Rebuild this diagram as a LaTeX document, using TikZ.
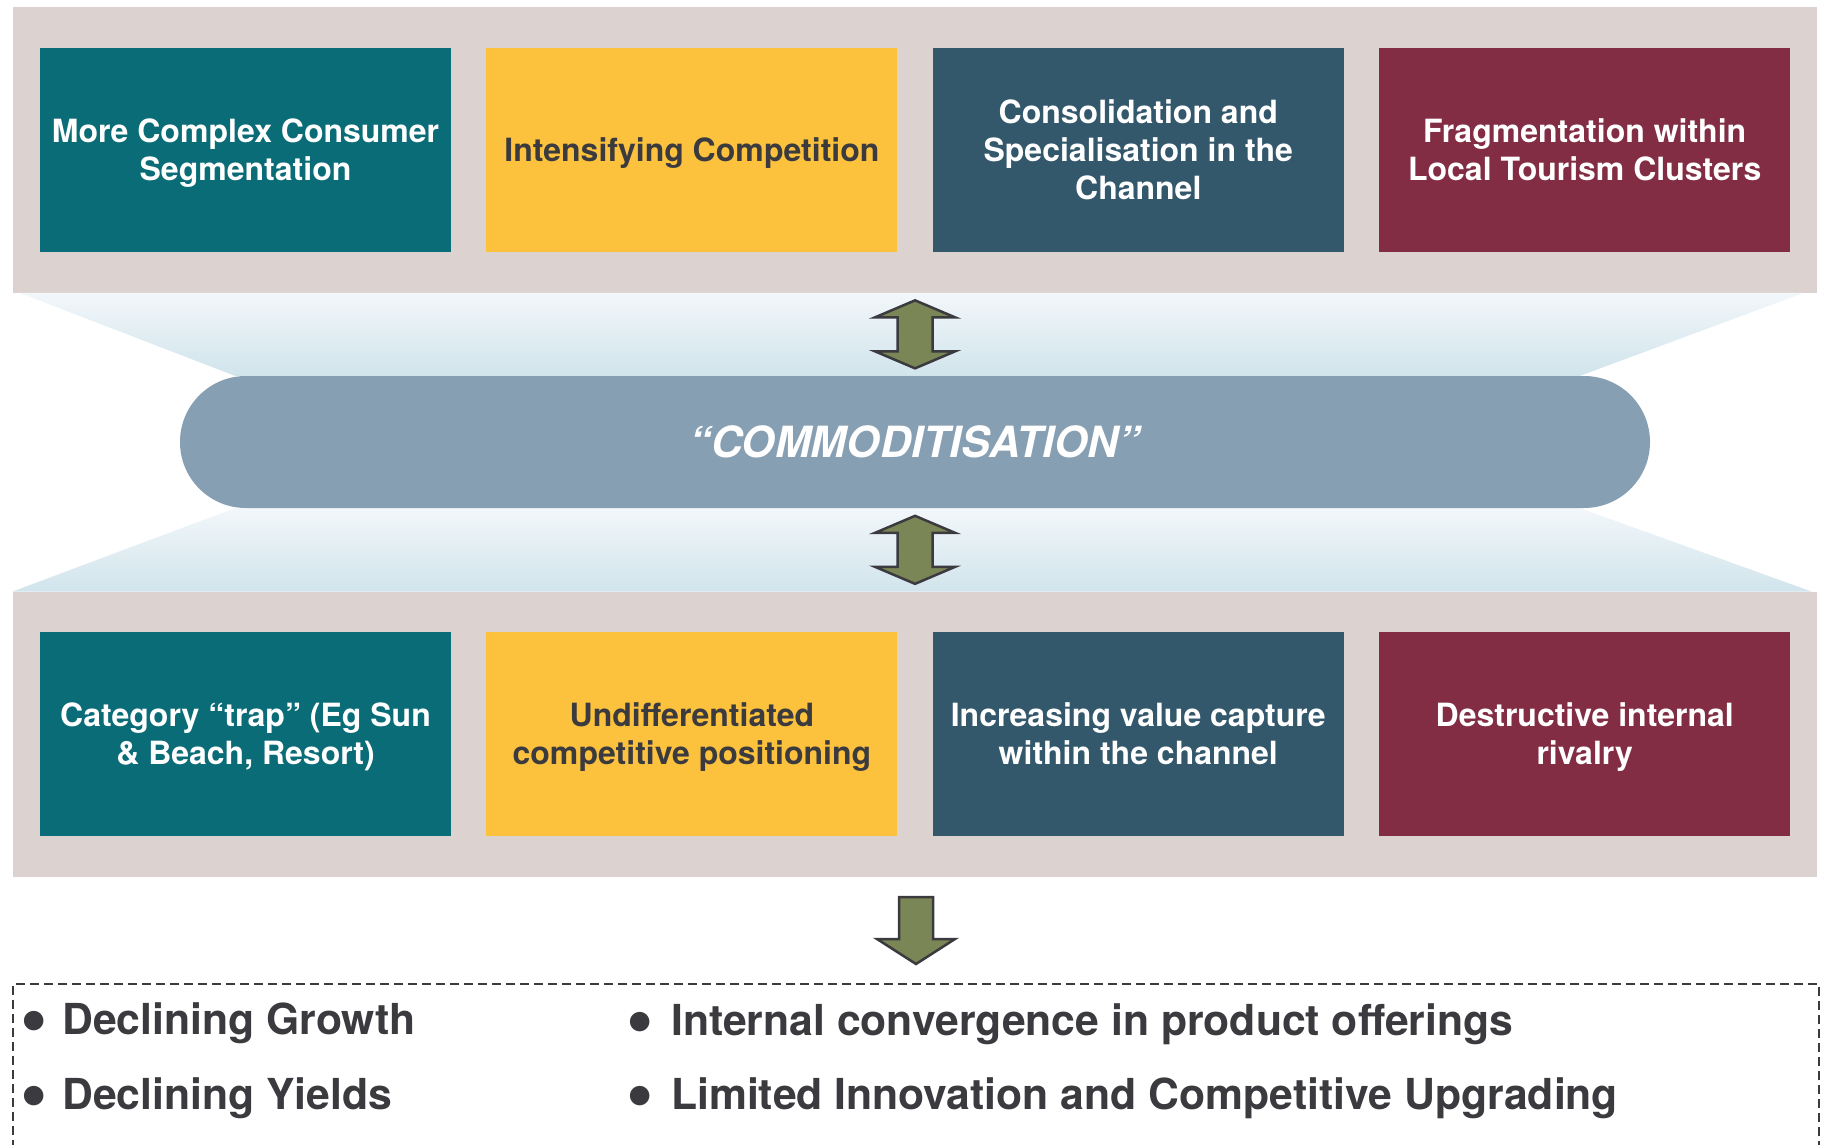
\documentclass[tikz,border=0pt]{standalone}
\usepackage{fontspec}
\setmainfont{TeX Gyre Heros}
\usetikzlibrary{backgrounds,calc,fit,positioning}

\definecolor{panelgray}{HTML}{DCD3D1}
\definecolor{tealbox}{HTML}{0A6C77}
\definecolor{yellowbox}{HTML}{FDC23D}
\definecolor{slatebox}{HTML}{33576B}
\definecolor{maroonbox}{HTML}{822D44}
\definecolor{pillblue}{HTML}{879FB3}
\definecolor{olivefill}{HTML}{7A8656}
\definecolor{darktext}{HTML}{3A3A3F}
\definecolor{funneltop}{HTML}{F2F7FA}
\definecolor{funnelbot}{HTML}{D1E4EC}

% even strut, so every box centres on its capitals
\newcommand{\cstrut}{\rule[-7pt]{0pt}{37pt}}
\newcommand{\bigdot}{\raisebox{-10.5pt}{\fontsize{78}{78}\selectfont\textbullet}}

\tikzset{
  factor/.style={rectangle, minimum width=411pt, minimum height=204pt, inner sep=0pt,
    align=center, text=white, font=\fontsize{32}{38}\selectfont\bfseries},
  panel/.style={fill=panelgray, inner xsep=27pt, inner ysep=40.5pt},
  funnel/.style={top color=funneltop, bottom color=funnelbot},
  pill/.style={fill=pillblue, rounded corners=65.9pt, minimum width=1470pt,
    minimum height=132pt, text=white, font=\fontsize{43}{48}\selectfont\bfseries\itshape},
  blockarrow/.style={fill=olivefill, draw=darktext, line width=2.5pt, line join=miter},
  outcomebox/.style={draw=darktext, line width=2pt, dash pattern=on 9pt off 5pt,
    minimum width=1806pt, minimum height=180pt, anchor=north west},
  bulletline/.style={anchor=base west, inner sep=0pt, text=darktext,
    font=\fontsize{42.7}{48}\selectfont\bfseries},
  dblarrow/.pic={\path[blockarrow] (0,-34) -- (40,-17) -- (17.5,-17) -- (17.5,17) -- (40,17)
    -- (0,34) -- (-40,17) -- (-17.5,17) -- (-17.5,-17) -- (-40,-17) -- cycle;},
  downarrow/.pic={\path[blockarrow] (0,0) -- (39,-25) -- (17,-25) -- (17,-67) -- (-17,-67)
    -- (-17,-25) -- (-39,-25) -- cycle;}
}

\begin{document}
\begin{tikzpicture}[x=1pt, y=-1pt, node distance=35pt]
  \useasboundingbox (0,0) rectangle (1824,1145);

  % forces (top) and symptoms (bottom)
  \begin{scope}[every node/.style={factor}]
    \node (seg)[fill=tealbox] at (245.5,150) {\cstrut More Complex Consumer\\Segmentation\cstrut};
    \node (comp)[fill=yellowbox, text=darktext] [right=of seg] {\cstrut Intensifying Competition\cstrut};
    \node (consol)[fill=slatebox] [right=of comp] {\cstrut Consolidation and\\Specialisation in the\\Channel\cstrut};
    \node (frag)[fill=maroonbox] [right=of consol] {\cstrut Fragmentation within\\Local Tourism Clusters\cstrut};
    \node (trap)[fill=tealbox] [below=380pt of seg] {\cstrut Category “trap” (Eg Sun\\\& Beach, Resort)\cstrut};
    \node (undiff)[fill=yellowbox, text=darktext] [right=of trap] {\cstrut Undifferentiated\\competitive positioning\cstrut};
    \node (capture)[fill=slatebox] [right=of undiff] {\cstrut Increasing value capture\\within the channel\cstrut};
    \node (rival)[fill=maroonbox] [right=of capture] {\cstrut Destructive internal\\rivalry\cstrut};
  \end{scope}

  \node (commod)[pill] at (915,442) {“COMMODITISATION”};

  \begin{scope}[on background layer]
    \node (toppanel)[panel, fit=(seg)(frag)] {};
    \node (botpanel)[panel, fit=(trap)(rival)] {};
    \shade[funnel] ([xshift=7pt]toppanel.south west) -- ([xshift=-14pt]toppanel.south east)
      -- ([xshift=-70pt]commod.north east) -- ([xshift=55pt]commod.north west) -- cycle;
    \shade[funnel] ([xshift=55pt]commod.south west) -- ([xshift=-70pt]commod.south east)
      -- ([xshift=-6pt]botpanel.north east) -- (botpanel.north west) -- cycle;
  \end{scope}

  \pic (uparrow) at ($(toppanel.south)!0.5!(commod.north)$) {dblarrow};
  \pic (lowarrow) at ($(commod.south)!0.5!(botpanel.north)$) {dblarrow};

  % outcomes
  \node (outcome)[outcomebox] at (12,983) {};
  \pic (resarrow) at ([yshift=19pt]outcome.north) {downarrow};

  \node (growth)[bulletline] at (20,1034) {\bigdot\hspace{14.7pt}Declining Growth};
  \node (yields)[bulletline] at (20,1109) {\bigdot\hspace{14.7pt}Declining Yields};
  \node (converge)[bulletline] at (626,1035) {\bigdot\hspace{17.7pt}Internal convergence in product offerings};
  \node (innov)[bulletline] at (626,1109) {\bigdot\hspace{17.7pt}Limited Innovation and Competitive Upgrading};
\end{tikzpicture}
\end{document}
